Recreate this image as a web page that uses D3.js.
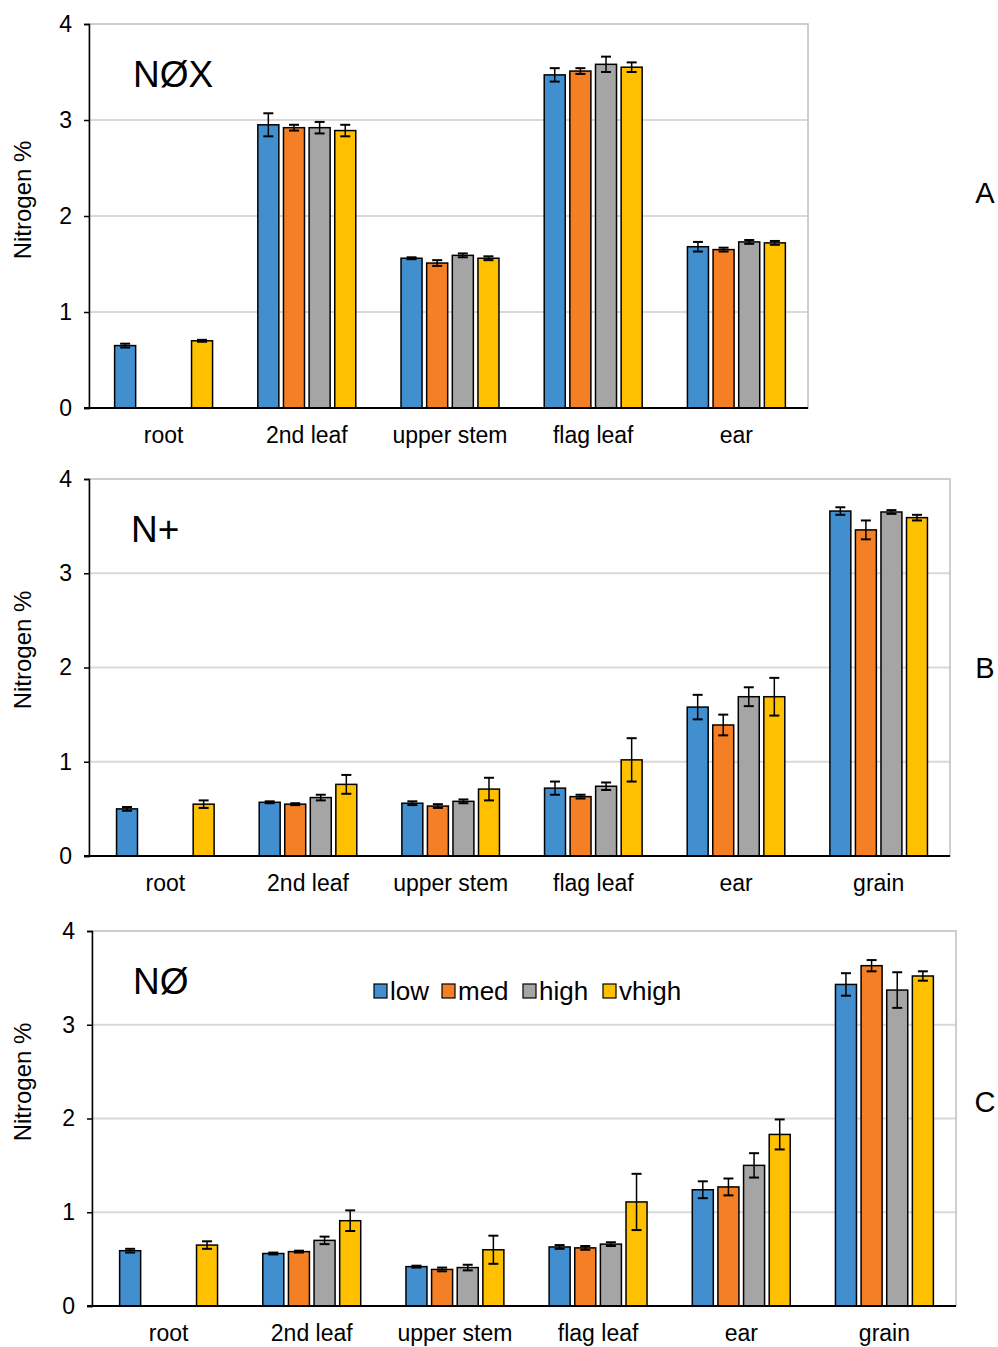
<!DOCTYPE html>
<html>
<head>
<meta charset="utf-8">
<script src="https://cdn.jsdelivr.net/npm/d3@7"></script>
<style>
  body { margin: 0; background: #fff; }
  text { font-family: "Liberation Sans", Arial, sans-serif; fill: #000; }
</style>
</head>
<body>
<svg id="chart" width="998" height="1347"></svg>
<script>
// series / categories
var series = ['low', 'med', 'high', 'vhigh'];
var colors = ['#428fd0', '#f57f25', '#a5a5a5', '#ffc000'];
var catsA = ['root', '2nd leaf', 'upper stem', 'flag leaf', 'ear'];
var catsBC = ['root', '2nd leaf', 'upper stem', 'flag leaf', 'ear', 'grain'];
var yTicks = [0, 1, 2, 3, 4];

// NØX (A)  - null = not measured
var noxLow   = [0.65, 2.95, 1.56, 3.47, 1.68];
var noxMed   = [null, 2.92, 1.51, 3.51, 1.65];
var noxHigh  = [null, 2.92, 1.59, 3.58, 1.73];
var noxVhigh = [0.70, 2.89, 1.56, 3.55, 1.72];
var noxLowErr   = [0.02, 0.12, 0.01, 0.07, 0.05];
var noxMedErr   = [null, 0.03, 0.03, 0.03, 0.02];
var noxHighErr  = [null, 0.06, 0.02, 0.08, 0.02];
var noxVhighErr = [0.01, 0.06, 0.02, 0.05, 0.02];

// N+ (B)
var npLow   = [0.50, 0.57, 0.56, 0.72, 1.58, 3.66];
var npMed   = [null, 0.55, 0.53, 0.63, 1.39, 3.46];
var npHigh  = [null, 0.62, 0.58, 0.74, 1.69, 3.65];
var npVhigh = [0.55, 0.76, 0.71, 1.02, 1.69, 3.59];
var npLowErr   = [0.02, 0.01, 0.02, 0.07, 0.13, 0.04];
var npMedErr   = [null, 0.01, 0.02, 0.02, 0.11, 0.10];
var npHighErr  = [null, 0.03, 0.02, 0.04, 0.10, 0.02];
var npVhighErr = [0.04, 0.10, 0.12, 0.23, 0.20, 0.03];

// NØ (C)
var n0Low   = [0.59, 0.56, 0.42, 0.63, 1.24, 3.43];
var n0Med   = [null, 0.58, 0.39, 0.62, 1.27, 3.63];
var n0High  = [null, 0.70, 0.41, 0.66, 1.50, 3.37];
var n0Vhigh = [0.65, 0.91, 0.60, 1.11, 1.83, 3.52];
var n0LowErr   = [0.02, 0.01, 0.01, 0.02, 0.09, 0.12];
var n0MedErr   = [null, 0.01, 0.02, 0.02, 0.09, 0.06];
var n0HighErr  = [null, 0.04, 0.03, 0.02, 0.13, 0.19];
var n0VhighErr = [0.04, 0.11, 0.15, 0.30, 0.16, 0.05];

var svg = d3.select('#chart');

var panels = [
  { title: 'NØX', letter: 'A', cats: catsA,
    vals: [noxLow, noxMed, noxHigh, noxVhigh], errs: [noxLowErr, noxMedErr, noxHighErr, noxVhighErr],
    axisX: 89, x0: 92, x1: 808, top: 24, bottom: 408, ylab: 200, letterY: 193, titleX: 133, legend: false },
  { title: 'N+', letter: 'B', cats: catsBC,
    vals: [npLow, npMed, npHigh, npVhigh], errs: [npLowErr, npMedErr, npHighErr, npVhighErr],
    axisX: 89, x0: 94, x1: 950, top: 479, bottom: 856, ylab: 650, letterY: 668, titleX: 131, legend: false },
  { title: 'NØ', letter: 'C', cats: catsBC,
    vals: [n0Low, n0Med, n0High, n0Vhigh], errs: [n0LowErr, n0MedErr, n0HighErr, n0VhighErr],
    axisX: 92, x0: 97, x1: 956, top: 931, bottom: 1306, ylab: 1082, letterY: 1102, titleX: 133, legend: true }
];

panels.forEach(function(p) {
  var g = svg.append('g');

  var x = d3.scaleBand().domain(p.cats).range([p.x0, p.x1])
    .paddingInner(0.316).paddingOuter(0.158);
  var xs = d3.scaleBand().domain(series).range([0, x.bandwidth()]).paddingInner(0.18);
  var y = d3.scaleLinear().domain([0, 4]).range([p.bottom, p.top]);

  // gridlines
  g.append('g')
    .selectAll('line').data(yTicks.slice(1, 4)).enter().append('line')
    .attr('x1', p.axisX).attr('x2', p.x1)
    .attr('y1', d => y(d)).attr('y2', d => y(d))
    .attr('stroke', '#d9d9d9').attr('stroke-width', 2);

  // plot border (grey)
  g.append('rect')
    .attr('x', p.axisX).attr('y', p.top)
    .attr('width', p.x1 - p.axisX).attr('height', p.bottom - p.top)
    .attr('fill', 'none').attr('stroke', '#bfbfbf').attr('stroke-width', 1.5);

  // bars
  var rows = [];
  p.cats.forEach(function(c, i) {
    series.forEach(function(s, j) {
      if (p.vals[j][i] != null) rows.push({ cat: c, s: s, j: j, v: p.vals[j][i], e: p.errs[j][i] });
    });
  });

  g.selectAll('rect.bar').data(rows).enter().append('rect')
    .attr('class', 'bar')
    .attr('x', d => x(d.cat) + xs(d.s))
    .attr('y', d => y(d.v))
    .attr('width', xs.bandwidth())
    .attr('height', d => y(0) - y(d.v))
    .attr('fill', d => colors[d.j])
    .attr('stroke', '#000').attr('stroke-width', 1.5);

  // error bars
  var eb = g.selectAll('g.err').data(rows).enter().append('g')
    .attr('transform', d => 'translate(' + (x(d.cat) + xs(d.s) + xs.bandwidth() / 2) + ',0)');
  eb.append('line')
    .attr('x1', 0).attr('x2', 0)
    .attr('y1', d => y(d.v + d.e)).attr('y2', d => y(d.v - d.e))
    .attr('stroke', '#000').attr('stroke-width', 1.5);
  eb.append('line')
    .attr('x1', -5).attr('x2', 5)
    .attr('y1', d => y(d.v + d.e)).attr('y2', d => y(d.v + d.e))
    .attr('stroke', '#000').attr('stroke-width', 2);
  eb.append('line')
    .attr('x1', -5).attr('x2', 5)
    .attr('y1', d => y(d.v - d.e)).attr('y2', d => y(d.v - d.e))
    .attr('stroke', '#000').attr('stroke-width', 2);

  // y axis
  var ya = g.append('g')
    .attr('transform', 'translate(' + p.axisX + ',0)')
    .call(d3.axisLeft(y).tickValues(yTicks).tickSize(5).tickPadding(12).tickFormat(d3.format('d')));
  ya.select('.domain').attr('stroke', '#000').attr('stroke-width', 1.5);
  ya.selectAll('.tick line').attr('stroke', '#000').attr('stroke-width', 1.5);
  ya.selectAll('.tick text').style('font-size', '23px');

  // x axis
  var xa = g.append('g')
    .attr('transform', 'translate(0,' + p.bottom + ')')
    .call(d3.axisBottom(x).tickSize(0).tickPadding(19));
  xa.select('.domain').remove();
  xa.selectAll('.tick text').style('font-size', '23px');
  g.append('line')
    .attr('x1', p.axisX - 5).attr('x2', p.x1)
    .attr('y1', p.bottom).attr('y2', p.bottom)
    .attr('stroke', '#000').attr('stroke-width', 2);

  // y label
  g.append('text')
    .attr('transform', 'translate(31,' + p.ylab + ') rotate(-90)')
    .attr('text-anchor', 'middle')
    .style('font-size', '24px')
    .text('Nitrogen %');

  // title inside plot
  g.append('text')
    .attr('x', p.titleX).attr('y', p.top + 63)
    .style('font-size', '37px')
    .text(p.title);

  // panel letter
  g.append('text')
    .attr('x', 985).attr('y', p.letterY + 10)
    .attr('text-anchor', 'middle')
    .style('font-size', '29px')
    .text(p.letter);

  if (p.legend) {
    var lx = [374, 442, 523, 603];
    var lg = g.selectAll('g.leg').data(series).enter().append('g')
      .attr('transform', (d, i) => 'translate(' + lx[i] + ',' + 984 + ')');
    lg.append('rect')
      .attr('width', 13).attr('height', 14)
      .attr('fill', (d, i) => colors[i])
      .attr('stroke', '#000').attr('stroke-width', 1.2);
    lg.append('text')
      .attr('x', 16).attr('y', 16)
      .style('font-size', '26px')
      .text(d => d);
  }
});
</script>
</body>
</html>
